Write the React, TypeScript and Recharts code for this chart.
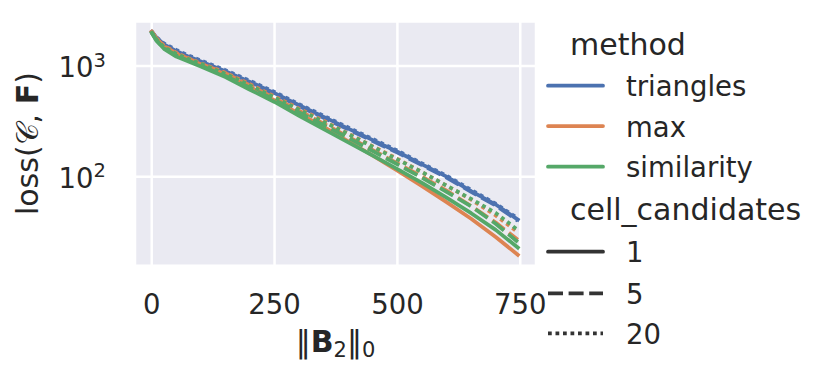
import { LineChart, Line, XAxis, YAxis, CartesianGrid } from "recharts";

// ||B2||_0 sample positions
const xs = [0, 10, 25, 50, 75, 100, 150, 200, 250, 300, 350, 400, 450, 500, 550, 600, 650, 700, 745];

// loss per (method, cell_candidates)
const triangles1 = [2042, 1799, 1567, 1365, 1216, 1096, 895, 719, 569, 442, 347, 272, 214, 168, 129, 100, 74, 56, 41];
const triangles5 = [2042, 1765, 1538, 1340, 1194, 1076, 879, 706, 558, 434, 340, 267, 210, 165, 127, 98, 73, 55, 40];
const triangles20 = [2042, 1810, 1600, 1396, 1245, 1122, 916, 736, 582, 452, 355, 278, 219, 172, 132, 102, 76, 57, 42];
const max1 = [2042, 1758, 1496, 1288, 1148, 1035, 841, 646, 490, 372, 282, 209, 155, 113.5, 82.2, 58.9, 41.7, 28.5, 19.7];
const max5 = [2042, 1758, 1514, 1303, 1161, 1047, 861, 668, 513, 394, 302, 229, 174, 132, 100, 75, 54.3, 38.5, 26.9];
const max20 = [2042, 1778, 1531, 1318, 1175, 1059, 871, 684, 531, 412, 320, 245, 188, 145, 110, 83, 62, 44.7, 31.6];
const similarity1 = [1995, 1679, 1429, 1216, 1096, 989, 794, 610, 473, 355, 269, 204, 155, 117, 88, 64.6, 46.8, 33.1, 22.9];
const similarity5 = [1995, 1698, 1445, 1245, 1117, 1007, 813, 638, 495, 380, 292, 224, 170, 129, 98, 73, 54, 37.6, 25.7];
const similarity20 = [2018, 1738, 1479, 1288, 1156, 1047, 851, 668, 519, 403, 313, 243, 186, 143, 110, 83, 63, 47, 33];

const xTicks = [0, 250, 500, 750];
const yTicks = [100, 1000];

const methods = ["triangles", "max", "similarity"];
const candidates = ["1", "5", "20"];

const COLORS: Record<string, string> = {
  triangles: "#4C72B0",
  max: "#DD8452",
  similarity: "#55A868",
};
const DASHES: Record<string, string | undefined> = {
  "1": undefined,
  "5": "15 5.6",
  "20": "3.75 3.75",
};

const seriesValues: Record<string, number[]> = {
  triangles_1: triangles1,
  triangles_5: triangles5,
  triangles_20: triangles20,
  max_1: max1,
  max_5: max5,
  max_20: max20,
  similarity_1: similarity1,
  similarity_5: similarity5,
  similarity_20: similarity20,
};

const rows = xs.map((x, i) => {
  const row: Record<string, number> = { x };
  Object.keys(seriesValues).forEach((k) => {
    row[k] = seriesValues[k][i];
  });
  return row;
});

const FONT = "DejaVu Sans, sans-serif";
const TEXT = "#262626";

const XTick = (props: any) => {
  const { x, y, payload } = props;
  return (
    <text x={x} y={y + 48.3} textAnchor="middle" fontSize={27.5} fill={TEXT} fontFamily={FONT}>
      {payload.value}
    </text>
  );
};

const YTick = (props: any) => {
  const { x, y, payload } = props;
  const exp = Math.round(Math.log10(payload.value));
  return (
    <text x={x - 29} y={y + 11.3} textAnchor="end" fontSize={27.5} fill={TEXT} fontFamily={FONT}>
      10
      <tspan fontSize={19.5} dy={-10.5}>
        {exp}
      </tspan>
    </text>
  );
};

export default function App() {
  const legendRows = [
    { y: 85.7, label: "triangles", color: COLORS.triangles, dash: undefined },
    { y: 126, label: "max", color: COLORS.max, dash: undefined },
    { y: 166.7, label: "similarity", color: COLORS.similarity, dash: undefined },
    { y: 251.7, label: "1", color: "#333333", dash: DASHES["1"] },
    { y: 293.3, label: "5", color: "#333333", dash: DASHES["5"] },
    { y: 333.3, label: "20", color: "#333333", dash: DASHES["20"] },
  ];

  return (
    <div style={{ position: "absolute", left: 0, top: 0, width: 829, height: 380, background: "#fff" }}>
      <LineChart
        width={829}
        height={380}
        data={rows}
        margin={{ top: 21.5, right: 293, bottom: 84.3, left: 75 }}
      >
        <CartesianGrid fill="#EAEAF2" stroke="#ffffff" strokeWidth={2.5} />
        <XAxis
          dataKey="x"
          type="number"
          domain={[-34, 782]}
          ticks={xTicks}
          interval={0}
          allowDataOverflow
          tick={<XTick />}
          tickLine={false}
          axisLine={false}
          tickSize={0}
          tickMargin={0}
          height={30}
        />
        <YAxis
          type="number"
          scale="log"
          domain={[15.7, 2523]}
          ticks={yTicks}
          interval={0}
          allowDataOverflow
          tick={<YTick />}
          tickLine={false}
          axisLine={false}
          tickSize={0}
          tickMargin={0}
          width={60}
        />
        {methods.map((m) =>
          candidates.map((c) => (
            <Line
              key={`${m}_${c}`}
              dataKey={`${m}_${c}`}
              type="linear"
              stroke={COLORS[m]}
              strokeWidth={3.75}
              strokeDasharray={DASHES[c]}
              strokeLinecap={DASHES[c] ? "butt" : "square"}
              strokeLinejoin="round"
              dot={false}
              activeDot={false}
              isAnimationActive={false}
            />
          ))
        )}
      </LineChart>

      <svg
        width={829}
        height={380}
        style={{ position: "absolute", left: 0, top: 0, pointerEvents: "none" }}
        fontFamily={FONT}
      >
        <text
          x={38}
          y={143.6}
          transform="rotate(-90 38 143.6)"
          textAnchor="middle"
          fontSize={30}
          fill={TEXT}
        >
          loss(𝒞, <tspan fontWeight="bold">F</tspan>)
        </text>
        <text x={335.5} y={352} textAnchor="middle" fontSize={30} fill={TEXT}>
          ‖<tspan fontWeight="bold">B</tspan>
          <tspan fontSize={21} dy={5}>2</tspan>
          <tspan dy={-5}>‖</tspan>
          <tspan fontSize={21} dy={5}>0</tspan>
        </text>

        <text x={570} y={55} fontSize={30} fill={TEXT}>method</text>
        <text x={570} y={220} fontSize={30} fill={TEXT}>cell_candidates</text>
        {legendRows.map((r) => (
          <g key={r.label}>
            <line
              x1={548}
              x2={603}
              y1={r.y}
              y2={r.y}
              stroke={r.color}
              strokeWidth={3.75}
              strokeDasharray={r.dash}
              strokeLinecap={r.dash ? "butt" : "round"}
            />
            <text x={626} y={r.y + 10.5} fontSize={27.5} fill={TEXT}>
              {r.label}
            </text>
          </g>
        ))}
      </svg>
    </div>
  );
}
